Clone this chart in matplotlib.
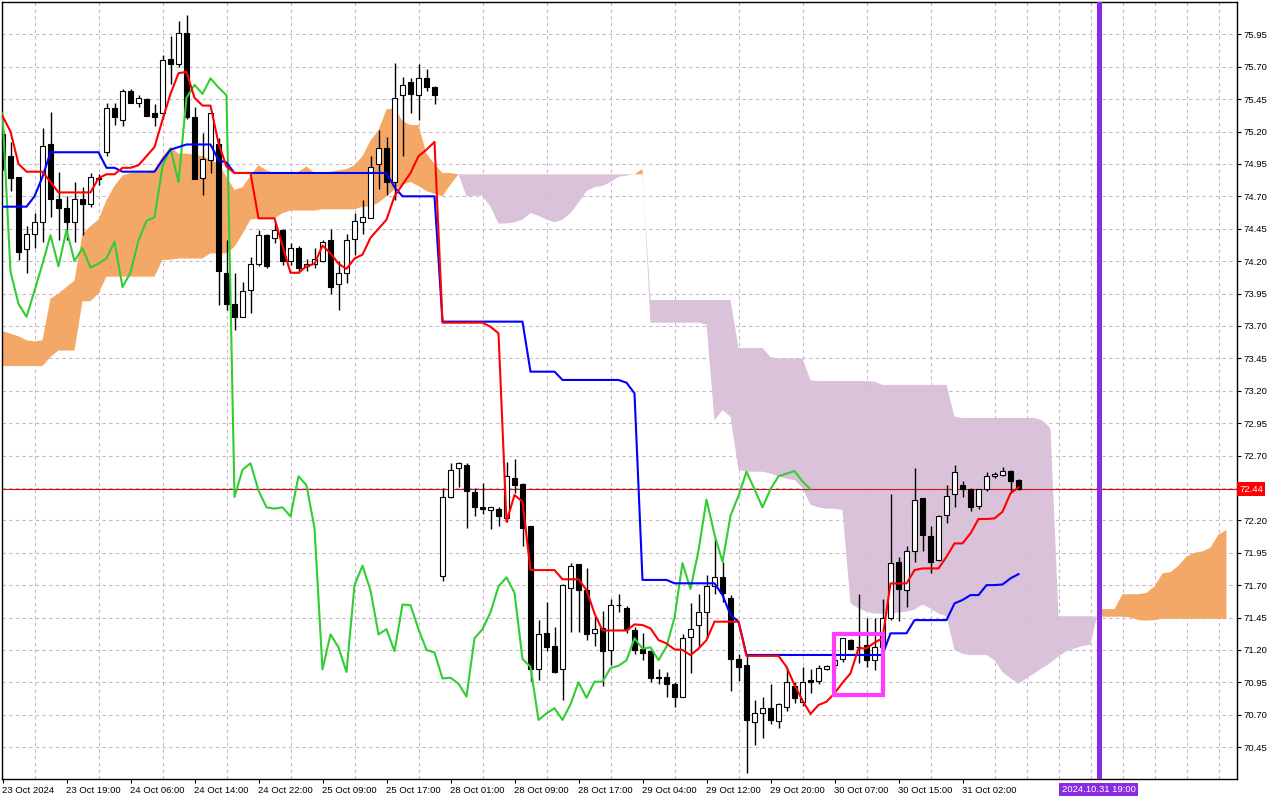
import numpy as np
import matplotlib.pyplot as plt
from matplotlib.patches import Rectangle
from matplotlib.transforms import blended_transform_factory

plt.rcParams['font.family'] = ['Liberation Sans', 'DejaVu Sans']

# H1 bars, 23 Oct 2024 -> 31 Oct 2024 (one value per bar)
opens = [75.18, 75.01, 74.85, 74.29, 74.41, 74.50, 75.10, 74.68, 74.61, 74.50,
         74.68, 74.64, 74.84, 75.04, 75.38, 75.29, 75.51, 75.42, 75.45, 75.34,
         75.34, 75.76, 75.72, 75.96, 75.31, 74.84, 74.98, 75.10, 74.11, 73.87,
         73.77, 73.98, 74.18, 74.40, 74.38, 74.44, 74.20, 74.30, 74.16, 74.18,
         74.20, 74.36, 74.02, 74.11, 74.37, 74.50, 74.53, 74.95, 75.07, 74.81,
         75.48, 75.58, 75.48, 75.61, 75.54, 71.77, 72.38, 72.60, 72.63, 72.42,
         72.30, 72.28, 72.29, 72.22, 72.53, 72.48, 72.16, 71.05, 71.33, 71.23,
         71.05, 71.68, 71.86, 71.66, 71.33, 71.37, 71.20, 71.55, 71.52, 71.35,
         71.21, 71.19, 70.99, 70.99, 70.94, 70.84, 71.30, 71.39, 71.49, 71.69,
         71.76, 71.60, 71.13, 71.08, 70.64, 70.71, 70.75, 70.65, 70.76, 70.92,
         70.80, 70.97, 70.96, 71.055, 71.08, 71.13, 71.28, 71.225, 71.24, 71.12,
         71.225, 71.45, 71.88, 71.66, 71.96, 72.37, 72.08, 71.89, 72.24, 72.40,
         72.47, 72.44, 72.31, 72.44, 72.54, 72.55, 72.58, 72.51]
highs = [75.22, 75.12, 74.85, 74.47, 74.57, 75.23, 75.35, 74.89, 74.70, 74.81,
         74.77, 74.88, 74.87, 75.42, 75.42, 75.53, 75.53, 75.48, 75.46, 75.41,
         75.79, 75.94, 76.05, 76.10, 75.39, 75.19, 75.34, 75.15, 74.36, 74.11,
         74.04, 74.23, 74.44, 74.41, 74.50, 74.45, 74.34, 74.32, 74.22, 74.30,
         74.36, 74.45, 74.20, 74.41, 74.57, 74.67, 75.01, 75.21, 75.16, 75.73,
         75.62, 75.61, 75.72, 75.68, 75.55, 72.45, 72.64, 72.65, 72.64, 72.45,
         72.49, 72.30, 72.30, 72.65, 72.67, 72.49, 72.16, 71.43, 71.57, 71.38,
         71.71, 71.87, 71.86, 71.83, 71.46, 71.50, 71.59, 71.63, 71.54, 71.38,
         71.33, 71.19, 71.05, 71.03, 70.95, 71.32, 71.56, 71.63, 71.78, 72.06,
         71.88, 71.62, 71.17, 71.15, 70.81, 70.84, 70.94, 70.79, 71.06, 70.95,
         71.07, 71.05, 71.08, 71.08, 71.15, 71.29, 71.285, 71.63, 71.45, 71.45,
         71.59, 72.40, 71.92, 72.00, 72.60, 72.37, 72.16, 72.24, 72.47, 72.63,
         72.50, 72.45, 72.445, 72.57, 72.575, 72.61, 72.585, 72.515]
lows = [74.90, 74.74, 74.21, 74.11, 74.30, 74.35, 74.54, 74.36, 74.36, 74.35,
        74.40, 74.62, 74.79, 75.01, 75.25, 75.24, 75.42, 75.39, 75.32, 75.24,
        75.30, 75.57, 75.70, 75.30, 74.83, 74.71, 74.88, 73.86, 73.82, 73.67,
        73.77, 73.80, 74.16, 74.15, 74.34, 74.17, 74.17, 74.11, 74.12, 74.15,
        74.19, 73.95, 73.82, 74.03, 74.25, 74.41, 74.53, 74.76, 74.71, 74.67,
        75.01, 75.34, 75.29, 75.51, 75.41, 71.73, 72.37, 72.46, 72.14, 72.23,
        72.25, 72.13, 72.16, 72.19, 72.41, 72.00, 70.96, 70.97, 71.19, 71.02,
        70.81, 71.34, 71.34, 71.28, 71.23, 70.92, 71.08, 71.49, 71.33, 71.17,
        71.12, 70.95, 70.94, 70.84, 70.76, 70.835, 71.02, 71.23, 71.29, 71.63,
        71.57, 70.88, 70.96, 70.25, 70.47, 70.52, 70.63, 70.60, 70.73, 70.79,
        70.77, 70.87, 70.94, 71.045, 71.05, 71.11, 71.21, 71.10, 71.07, 71.045,
        71.22, 71.43, 71.42, 71.53, 71.88, 71.965, 71.79, 71.885, 72.18, 72.305,
        72.38, 72.27, 72.29, 72.43, 72.53, 72.545, 72.42, 72.435]
closes = [74.96, 74.84, 74.27, 74.41, 74.50, 75.09, 74.68, 74.61, 74.50, 74.68,
          74.64, 74.85, 74.83, 75.38, 75.31, 75.51, 75.42, 75.46, 75.32, 75.31,
          75.75, 75.72, 75.96, 75.31, 74.83, 74.99, 75.34, 74.12, 73.87, 73.77,
          73.97, 74.18, 74.40, 74.16, 74.44, 74.20, 74.30, 74.15, 74.18, 74.22,
          74.35, 74.00, 74.11, 74.36, 74.51, 74.54, 74.93, 75.07, 74.81, 75.46,
          75.56, 75.49, 75.61, 75.54, 75.48, 72.38, 72.59, 72.64, 72.43, 72.30,
          72.29, 72.30, 72.23, 72.54, 72.47, 72.14, 71.05, 71.32, 71.22, 71.03,
          71.70, 71.85, 71.66, 71.32, 71.36, 71.19, 71.55, 71.545, 71.36, 71.20,
          71.18, 70.98, 70.985, 70.94, 70.84, 71.29, 71.36, 71.49, 71.69, 71.76,
          71.64, 71.13, 71.07, 70.66, 70.71, 70.75, 70.66, 70.78, 70.95, 70.83,
          70.955, 70.955, 71.06, 71.078, 71.12, 71.29, 71.21, 71.22, 71.12, 71.225,
          71.45, 71.87, 71.67, 71.965, 72.36, 72.09, 71.88, 72.235, 72.39, 72.575,
          72.44, 72.30, 72.44, 72.54, 72.56, 72.58, 72.50, 72.44]

tenkan = [75.32, 75.20, 74.95, 74.89, 74.89, 74.89, 74.81, 74.73, 74.73, 74.73,
          74.73, 74.73, 74.84, 74.87, 74.87, 74.92, 74.92, 74.94, 75.01, 75.08,
          75.29, 75.49, 75.65, 75.66, 75.46, 75.40, 75.40, 75.11, 74.93, 74.88,
          74.88, 74.88, 74.53, 74.53, 74.53, 74.32, 74.11, 74.11, 74.16, 74.18,
          74.32, 74.26, 74.18, 74.14, 74.22, 74.25, 74.38, 74.45, 74.52, 74.70,
          74.79, 74.88, 75.01, 75.06, 75.12, 73.725, 73.725, 73.725, 73.725, 73.725,
          73.725, 73.694, 73.643, 72.19, 72.395, 72.344, 71.816, 71.816, 71.816, 71.816,
          71.745, 71.745, 71.745, 71.662, 71.482, 71.35, 71.35, 71.35, 71.35, 71.397,
          71.392, 71.366, 71.276, 71.25, 71.204, 71.20, 71.16, 71.21, 71.276, 71.418,
          71.418, 71.418, 71.418, 71.154, 71.154, 71.154, 71.154, 71.154, 71.07, 70.93,
          70.81, 70.706, 70.775, 70.80, 70.865, 70.947, 71.019, 71.212, 71.212, 71.256,
          71.289, 71.713, 71.713, 71.713, 71.816, 71.829, 71.829, 71.829, 71.919, 72.022,
          72.022, 72.099, 72.21, 72.21, 72.215, 72.266, 72.408, 72.454]
kijun = [74.62, 74.62, 74.62, 74.62, 74.70, 74.85, 75.04, 75.04, 75.04, 75.04,
         75.04, 75.04, 75.04, 74.92, 74.92, 74.89, 74.89, 74.89, 74.89, 74.89,
         74.98, 75.06, 75.08, 75.10, 75.10, 75.10, 75.10, 74.98, 74.96, 74.88,
         74.88, 74.88, 74.88, 74.88, 74.88, 74.88, 74.88, 74.88, 74.88, 74.88,
         74.88, 74.88, 74.88, 74.88, 74.88, 74.88, 74.88, 74.88, 74.88, 74.77,
         74.70, 74.70, 74.70, 74.70, 74.70, 73.733, 73.733, 73.733, 73.733, 73.733,
         73.733, 73.733, 73.733, 73.733, 73.733, 73.733, 73.347, 73.347, 73.347, 73.347,
         73.283, 73.283, 73.283, 73.283, 73.283, 73.283, 73.283, 73.283, 73.262, 73.18,
         71.74, 71.74, 71.74, 71.74, 71.714, 71.714, 71.714, 71.714, 71.714, 71.714,
         71.624, 71.47, 71.418, 71.161, 71.161, 71.161, 71.161, 71.161, 71.161, 71.161,
         71.161, 71.161, 71.161, 71.161, 71.161, 71.161, 71.161, 71.161, 71.161, 71.161,
         71.161, 71.328, 71.328, 71.328, 71.43, 71.43, 71.43, 71.43, 71.43, 71.559,
         71.585, 71.623, 71.623, 71.70, 71.70, 71.705, 71.752, 71.785]
chikou = [75.34, 74.12, 73.87, 73.77, 73.97, 74.18, 74.40, 74.16, 74.44, 74.20,
          74.30, 74.15, 74.18, 74.22, 74.35, 74.00, 74.11, 74.36, 74.51, 74.54,
          74.93, 75.07, 74.81, 75.46, 75.56, 75.49, 75.61, 75.54, 75.48, 72.38,
          72.59, 72.64, 72.43, 72.30, 72.29, 72.30, 72.23, 72.54, 72.47, 72.14,
          71.05, 71.32, 71.22, 71.03, 71.70, 71.85, 71.66, 71.32, 71.36, 71.19,
          71.55, 71.545, 71.36, 71.20, 71.18, 70.98, 70.985, 70.94, 70.84, 71.29,
          71.36, 71.49, 71.69, 71.76, 71.64, 71.13, 71.07, 70.66, 70.71, 70.75,
          70.66, 70.78, 70.95, 70.83, 70.955, 70.955, 71.06, 71.078, 71.12, 71.29,
          71.21, 71.22, 71.12, 71.225, 71.45, 71.87, 71.67, 71.965, 72.36, 72.09,
          71.88, 72.235, 72.39, 72.575, 72.44, 72.30, 72.44, 72.54, 72.56, 72.58,
          72.50, 72.44]
span_a = [73.66, 73.64, 73.62, 73.59, 73.58, 73.59, 73.91, 73.95, 74.00, 74.05,
          74.41, 74.47, 74.52, 74.67, 74.78, 74.86, 74.88, 74.88, 74.88, 74.90,
          75.01, 75.08, 75.03, 75.03, 75.02, 75.01, 74.98, 74.95, 74.85, 74.75,
          74.77, 74.86, 74.94, 74.90, 74.88, 74.88, 74.88, 74.89, 74.93, 74.88,
          74.88, 74.89, 74.90, 74.91, 74.94, 75.01, 75.13, 75.21, 75.37, 75.38,
          75.28, 75.25, 75.25, 75.03, 74.95, 74.88, 74.88, 74.87, 74.70, 74.705,
          74.705, 74.62, 74.49, 74.49, 74.50, 74.52, 74.57, 74.55, 74.52, 74.50,
          74.52, 74.57, 74.65, 74.74, 74.77, 74.78, 74.81, 74.85, 74.86, 74.87,
          74.91, 73.725, 73.725, 73.725, 73.725, 73.725, 73.725, 73.725, 73.71, 72.97,
          73.05, 73.00, 72.59, 72.575, 72.575, 72.575, 72.56, 72.54, 72.52, 72.51,
          72.45, 72.32, 72.30, 72.29, 72.29, 72.28, 71.56, 71.52, 71.495, 71.48,
          71.48, 71.48, 71.49, 71.495, 71.51, 71.55, 71.52, 71.48, 71.46, 71.20,
          71.17, 71.16, 71.16, 71.16, 71.12, 71.03, 70.98, 70.94, 70.98, 71.02,
          71.06, 71.10, 71.15, 71.19, 71.21, 71.23, 71.24, 71.515, 71.515, 71.515,
          71.63, 71.63, 71.63, 71.64, 71.69, 71.79, 71.80, 71.85, 71.92, 71.95,
          71.96, 71.99, 72.09, 72.125]
span_b = [73.39, 73.39, 73.39, 73.39, 73.39, 73.39, 73.46, 73.51, 73.51, 73.51,
          73.89, 73.89, 73.95, 74.08, 74.08, 74.08, 74.08, 74.08, 74.08, 74.08,
          74.21, 74.21, 74.22, 74.22, 74.22, 74.22, 74.26, 74.26, 74.26, 74.31,
          74.41, 74.52, 74.53, 74.53, 74.53, 74.57, 74.59, 74.59, 74.59, 74.59,
          74.60, 74.60, 74.60, 74.60, 74.60, 74.62, 74.62, 74.65, 74.70, 74.75,
          74.79, 74.81, 74.78, 74.74, 74.72, 74.70, 74.79, 74.87, 74.87, 74.87,
          74.87, 74.87, 74.87, 74.87, 74.87, 74.87, 74.87, 74.87, 74.87, 74.87,
          74.87, 74.87, 74.87, 74.87, 74.87, 74.87, 74.87, 74.87, 74.87, 74.87,
          74.87, 73.90, 73.90, 73.90, 73.90, 73.90, 73.90, 73.90, 73.90, 73.90,
          73.90, 73.90, 73.53, 73.53, 73.53, 73.53, 73.46, 73.45, 73.45, 73.45,
          73.45, 73.28, 73.275, 73.275, 73.275, 73.275, 73.275, 73.275, 73.275, 73.27,
          73.245, 73.245, 73.245, 73.245, 73.245, 73.245, 73.245, 73.245, 73.245, 73.00,
          72.99, 72.99, 72.99, 72.99, 72.99, 72.99, 72.99, 72.99, 72.99, 72.99,
          72.97, 72.91, 71.46, 71.46, 71.46, 71.46, 71.46, 71.456, 71.456, 71.456,
          71.456, 71.45, 71.43, 71.426, 71.43, 71.44, 71.44, 71.44, 71.44, 71.44,
          71.44, 71.44, 71.44, 71.44]

label_bars = [0, 8, 16, 24, 32, 40, 48, 56, 64, 72, 80, 88, 96, 104, 112, 120]
label_texts = ['23 Oct 2024', '23 Oct 19:00', '24 Oct 06:00', '24 Oct 14:00',
               '24 Oct 22:00', '25 Oct 09:00', '25 Oct 17:00', '28 Oct 01:00',
               '28 Oct 09:00', '28 Oct 17:00', '29 Oct 04:00', '29 Oct 12:00',
               '29 Oct 20:00', '30 Oct 07:00', '30 Oct 15:00', '31 Oct 02:00']
price_ticks = [70.45, 70.70, 70.95, 71.20, 71.45, 71.70, 71.95, 72.20, 72.45,
               72.70, 72.95, 73.20, 73.45, 73.70, 73.95, 74.20, 74.45, 74.70,
               74.95, 75.20, 75.45, 75.70, 75.95]
last_price = 72.44
marker_bar = 137
marker_text = '2024.10.31 19:00'
box_bars = (103.95, 110.1)
box_prices = (70.85, 71.32)

o = np.array(opens)
hi = np.array(highs)
lo = np.array(lows)
c = np.array(closes)
xb = np.arange(len(c))
xs = np.arange(len(span_a))
sa = np.array(span_a)
sb = np.array(span_b)

fig = plt.figure(figsize=(12.8, 8), dpi=100)
ax = fig.add_axes([2.3 / 1280, 1 - 779 / 800, 1235 / 1280, 776.7 / 800])
ax.set_xlim(-0.025, 154.35)
ax.set_ylim(70.204, 76.197)

grid_col = '#c4b8c6'
ax.set_yticks(price_ticks)
ax.set_yticklabels(['' if abs(p - last_price) < 0.02 else f'{p:.2f}' for p in price_ticks])
ax.set_xticks(label_bars)
ax.set_xticklabels(label_texts)
ax.set_xticks(np.arange(4, 155, 4), minor=True)
ax.grid(axis='y', color=grid_col, lw=0.8, ls=(0, (3, 3)), zorder=0)
ax.grid(axis='x', which='minor', color=grid_col, lw=0.8, ls=(0, (3, 3)), zorder=0)
ax.set_axisbelow(True)

# cloud (senkou span A / B)
ax.fill_between(xs, sa, sb, where=sa >= sb, interpolate=True,
                color='#F4A460', lw=0, alpha=0.95, zorder=1)
ax.fill_between(xs, sa, sb, where=sa < sb, interpolate=True,
                color='#D8BFD8', lw=0, alpha=0.95, zorder=1)

# candles
ax.vlines(xb, lo, hi, color='black', lw=1, zorder=3)
ax.bar(xb, np.abs(c - o), bottom=np.minimum(o, c), width=0.56,
       color=np.where(c >= o, 'white', 'black'), edgecolor='black', lw=0.8, zorder=4)

# ichimoku lines
ax.plot(np.arange(len(chikou)), chikou, color='#32CD32', lw=1.5, zorder=5)
ax.plot(xb, kijun, color='#0000FF', lw=1.5, zorder=5)
ax.plot(xb, tenkan, color='#FF0000', lw=1.5, zorder=6)

ax.axhline(last_price, color='#D01010', lw=0.8, zorder=2)
ax.axvline(marker_bar, color='#8A2BE2', lw=3.6, zorder=7)
ax.add_patch(Rectangle((box_bars[0], box_prices[0]), box_bars[1] - box_bars[0],
                       box_prices[1] - box_prices[0], fill=False,
                       ec='#FF3CFF', lw=3, zorder=8))

for s in ax.spines.values():
    s.set_color('black')
    s.set_linewidth(1)

ax.yaxis.tick_right()
ax.tick_params(axis='y', which='major', length=3, width=0.8, pad=1.5,
               labelsize=6.8, colors='black')
ax.tick_params(axis='x', which='major', length=3, width=0.8, pad=2,
               labelsize=6.8, colors='black')
ax.tick_params(axis='x', which='minor', length=0)
for lbl in ax.get_xticklabels():
    lbl.set_ha('left')

ty = blended_transform_factory(ax.transAxes, ax.transData)
ax.text(1.0015, last_price, f'{last_price:.2f}', transform=ty, ha='left',
        va='center', color='white', fontsize=6.8,
        bbox=dict(boxstyle='square,pad=0.25', fc='#FF0000', ec='none'))
tx = blended_transform_factory(ax.transData, ax.transAxes)
ax.text(marker_bar, -0.0135, marker_text, transform=tx, ha='center',
        va='center', color='white', fontsize=6.8,
        bbox=dict(boxstyle='square,pad=0.25', fc='#8A2BE2', ec='none'))

fig.savefig('out.png', dpi=100)
